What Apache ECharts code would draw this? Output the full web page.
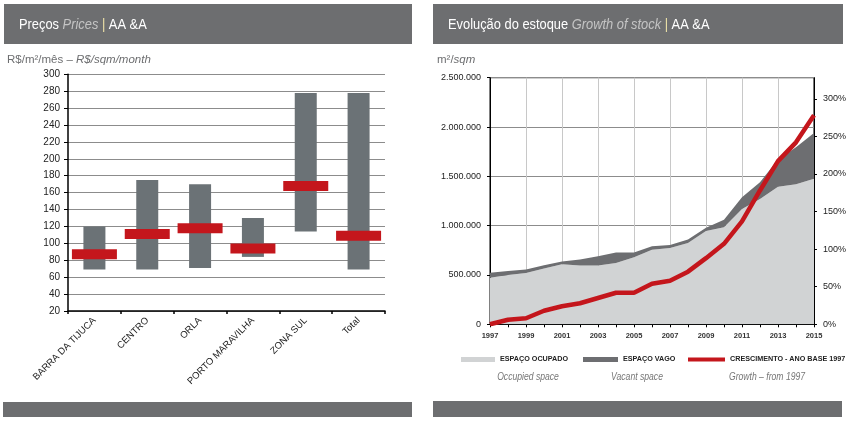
<!DOCTYPE html>
<html><head><meta charset="utf-8">
<script src="https://cdn.jsdelivr.net/npm/echarts@6/dist/echarts.min.js"></script>
<style>html,body{margin:0;padding:0;background:#fff}#c{width:849px;height:423px}</style>
</head><body><div id="c"></div>
<script>
// ---- Left chart: Preços / Prices ----
const regions = ['BARRA DA TIJUCA', 'CENTRO', 'ORLA', 'PORTO MARAVILHA', 'ZONA SUL', 'Total'];
const priceMin = [69, 69, 71, 84, 114, 69];
const priceMax = [120, 175, 170, 130, 278, 278];
const priceAvg = [87, 111, 118, 94, 168, 109];
const priceTicks = [20, 300, 20]; // min, max, interval

// ---- Right chart: Evolução do estoque / Growth of stock ----
const years = ['1997','1998','1999','2000','2001','2002','2003','2004','2005','2006','2007','2008','2009','2010','2011','2012','2013','2014','2015'];
const occupied = [472000,501000,521000,565000,609000,596000,596000,622000,680000,755000,774000,824000,945000,985000,1170000,1270000,1395000,1420000,1475000];
const totalStock = [523000,541000,555000,599000,636000,656000,690000,727000,727000,790000,804000,859000,980000,1060000,1289000,1440000,1670000,1795000,1940000];
const growth = [0,6,8,18,24,28,35,42,42,54,58,70,88,107,137,178,217,242,278];
const pctTicks = [0,50,100,150,200,250,300];

const FONT = "'Liberation Sans', Arial, sans-serif";
const HDR = '#6d6e70';
const vacant = totalStock.map((t, i) => t - occupied[i]);
const rangeDiff = priceMax.map((m, i) => m - priceMin[i]);
const fmtDots = v => String(v).replace(/\B(?=(\d{3})+(?!\d))/g, '.');

const titleRich = {
  a: { fill: '#fff', fontSize: 15.5, fontFamily: FONT },
  b: { fill: '#c4c4c4', fontSize: 15.5, fontStyle: 'italic', fontFamily: FONT },
  c: { fill: '#efe3a8', fontSize: 15.5, fontFamily: FONT }
};
const capStyle = t => ({ text: t, fill: '#777', fontSize: 10.5, fontStyle: 'italic', fontFamily: FONT, align: 'center', verticalAlign: 'middle' });

const chart = echarts.init(document.getElementById('c'));
chart.setOption({
  animation: false,
  textStyle: { fontFamily: FONT },
  graphic: [
    { type: 'rect', shape: { x: 4, y: 4, width: 408, height: 40 }, style: { fill: HDR } },
    { type: 'rect', shape: { x: 433, y: 4, width: 410, height: 40 }, style: { fill: HDR } },
    { type: 'rect', shape: { x: 3, y: 402, width: 409, height: 15 }, style: { fill: HDR } },
    { type: 'rect', shape: { x: 433, y: 401, width: 409, height: 16 }, style: { fill: HDR } },
    { type: 'text', x: 19, y: 25, scaleX: 0.83, style: {
        text: '{a|Preços }{b|Prices }{c||}{a| AA &A}', verticalAlign: 'middle', rich: titleRich } },
    { type: 'text', x: 448, y: 25, scaleX: 0.83, style: {
        text: '{a|Evolução do estoque }{b|Growth of stock }{c||}{a| AA &A}', verticalAlign: 'middle', rich: titleRich } },
    { type: 'text', x: 7, y: 60, style: {
        text: '{a|R$/m²/mês – }{b|R$/sqm/month}', verticalAlign: 'middle',
        rich: { a: { fill: '#6d6e70', fontSize: 11.5, fontFamily: FONT },
                b: { fill: '#6d6e70', fontSize: 11.5, fontStyle: 'italic', fontFamily: FONT } } } },
    { type: 'text', x: 437, y: 60, style: {
        text: '{a|m²/}{b|sqm}', verticalAlign: 'middle',
        rich: { a: { fill: '#6d6e70', fontSize: 11.5, fontFamily: FONT },
                b: { fill: '#6d6e70', fontSize: 11.5, fontStyle: 'italic', fontFamily: FONT } } } },
    { type: 'text', x: 528, y: 377, scaleX: 0.82, style: capStyle('Occupied space') },
    { type: 'text', x: 637, y: 377, scaleX: 0.82, style: capStyle('Vacant space') },
    { type: 'text', x: 767, y: 377, scaleX: 0.82, style: capStyle('Growth – from 1997') }
  ],
  legend: [
    { left: 456, top: 351, itemWidth: 34, itemHeight: 5, icon: 'rect', data: ['ESPAÇO OCUPADO'],
      textStyle: { fontSize: 7.2, fontWeight: 'bold', color: '#222', fontFamily: FONT } },
    { left: 578, top: 351, itemWidth: 35, itemHeight: 5, icon: 'rect', data: ['ESPAÇO VAGO'],
      textStyle: { fontSize: 7.2, fontWeight: 'bold', color: '#222', fontFamily: FONT } },
    { left: 683, top: 351, itemWidth: 37, itemHeight: 4, icon: 'rect', data: ['CRESCIMENTO - ANO BASE 1997'],
      textStyle: { fontSize: 7.2, fontWeight: 'bold', color: '#222', fontFamily: FONT } }
  ],
  grid: [
    { left: 68, right: 464, top: 74.3, bottom: 112 },
    { left: 490, right: 35, top: 77.7, bottom: 98.7, show: true, borderColor: '#000', borderWidth: 1, backgroundColor: 'transparent' }
  ],
  xAxis: [
    { type: 'category', gridIndex: 0, data: regions,
      axisLine: { lineStyle: { color: '#000', width: 1.5 } },
      axisTick: { show: true, interval: 0, length: 3, lineStyle: { color: '#000', width: 1.5 } },
      axisLabel: { rotate: 45, interval: 0, fontSize: 9.5, color: '#222', margin: 8 } },
    { type: 'category', gridIndex: 1, data: years, boundaryGap: false,
      axisLine: { lineStyle: { color: '#000', width: 1 } },
      axisTick: { show: true, interval: 0, length: 3, lineStyle: { color: '#000' } },
      axisLabel: { interval: 1, fontSize: 7.5, fontWeight: 'bold', color: '#333', margin: 8 },
      splitLine: { show: true, interval: 1, lineStyle: { color: '#c8c8c8', width: 1 } } }
  ],
  yAxis: [
    { type: 'value', gridIndex: 0, min: priceTicks[0], max: priceTicks[1], interval: priceTicks[2],
      axisLine: { show: true, lineStyle: { color: '#000', width: 1.5 } },
      axisTick: { show: true, length: 4, lineStyle: { color: '#000' } },
      axisLabel: { fontSize: 10, color: '#222', margin: 8 },
      splitLine: { lineStyle: { color: '#8c8c8c', width: 1 } } },
    { type: 'value', gridIndex: 1, min: 0, max: 2500000, interval: 500000,
      axisLine: { show: true, lineStyle: { color: '#000', width: 1 } },
      axisTick: { show: true, length: 3, lineStyle: { color: '#000' } },
      axisLabel: { fontSize: 9, color: '#222', margin: 9, formatter: fmtDots },
      splitLine: { lineStyle: { color: '#8c8c8c', width: 1 } } },
    { type: 'value', gridIndex: 1, position: 'right', min: 0, max: 328,
      axisLine: { show: true, lineStyle: { color: '#000', width: 1 } },
      axisTick: { show: true, length: 3, customValues: pctTicks, lineStyle: { color: '#000' } },
      axisLabel: { fontSize: 9, color: '#222', margin: 9, customValues: pctTicks, formatter: '{value}%' },
      splitLine: { show: false } }
  ],
  series: [
    { name: 'base', type: 'bar', xAxisIndex: 0, yAxisIndex: 0, stack: 'r', barWidth: 22,
      itemStyle: { color: 'transparent' }, data: priceMin, silent: true },
    { name: 'range', type: 'bar', xAxisIndex: 0, yAxisIndex: 0, stack: 'r', barWidth: 22,
      itemStyle: { color: '#6b7276' }, data: rangeDiff },
    { name: 'avg', type: 'scatter', xAxisIndex: 0, yAxisIndex: 0, symbol: 'rect', symbolSize: [45, 10],
      itemStyle: { color: '#c4161c', opacity: 1 }, data: priceAvg, z: 5 },
    { name: 'ESPAÇO OCUPADO', type: 'line', xAxisIndex: 1, yAxisIndex: 1, stack: 's', symbol: 'none',
      lineStyle: { width: 0 }, itemStyle: { color: '#d1d3d4' }, areaStyle: { color: '#d1d3d4', opacity: 1 }, data: occupied },
    { name: 'ESPAÇO VAGO', type: 'line', xAxisIndex: 1, yAxisIndex: 1, stack: 's', symbol: 'none',
      lineStyle: { width: 0 }, itemStyle: { color: '#6d6e71' }, areaStyle: { color: '#6d6e71', opacity: 1 }, data: vacant },
    { name: 'CRESCIMENTO - ANO BASE 1997', type: 'line', xAxisIndex: 1, yAxisIndex: 2, symbol: 'none',
      lineStyle: { width: 4.5, color: '#c4161c' }, itemStyle: { color: '#c4161c' }, data: growth, z: 5 }
  ]
});
</script></body></html>
